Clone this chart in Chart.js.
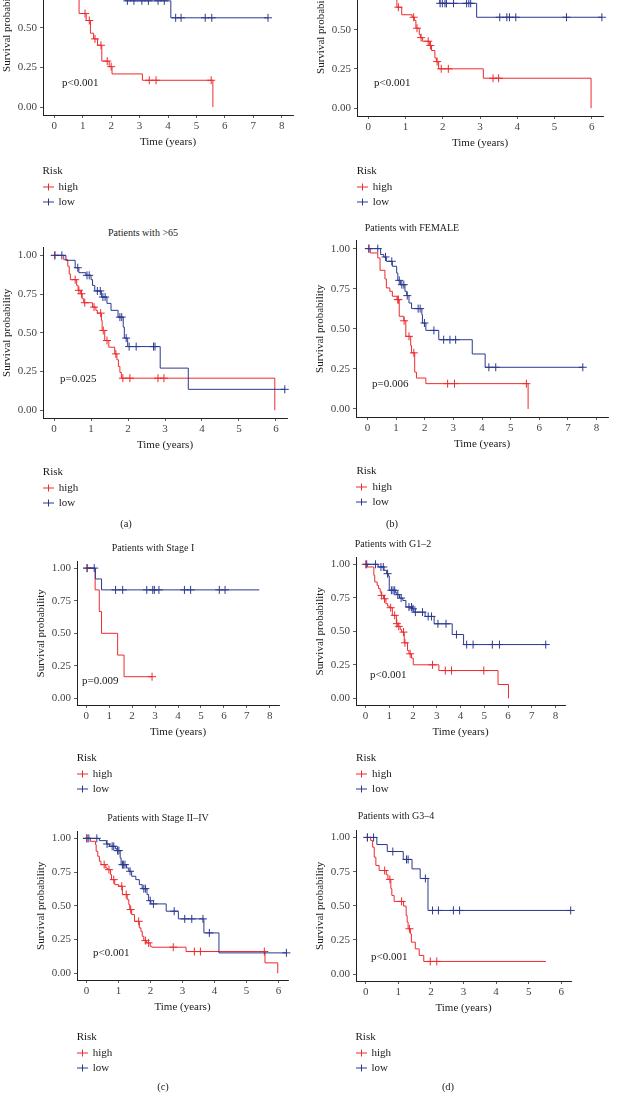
<!DOCTYPE html>
<html>
<head>
<meta charset="utf-8">
<script src="https://cdn.jsdelivr.net/npm/chart.js@4.4.0/dist/chart.umd.min.js"></script>
<style>
  body { margin: 0; width: 618px; height: 1093px; position: relative; overflow: hidden; background: #fff;
         font-family: "Liberation Serif", "DejaVu Serif", serif; color: #1a1a1a; }
  canvas { position: absolute; }
  .txt { position: absolute; white-space: nowrap; line-height: 1; }
</style>
</head>
<body>
<script>
// ---- datos: [tiempo (anos), supervivencia] ----
const xTicks8 = [0, 1, 2, 3, 4, 5, 6, 7, 8];
const xTicks6 = [0, 1, 2, 3, 4, 5, 6];
const yTicks = [0, 0.25, 0.5, 0.75, 1];

const panelTitles = ['', '', 'Patients with >65', 'Patients with FEMALE', 'Patients with Stage I',
  'Patients with G1–2', 'Patients with Stage II–IV', 'Patients with G3–4'];
const pValues = ['p<0.001', 'p<0.001', 'p=0.025', 'p=0.006', 'p=0.009', 'p<0.001', 'p<0.001', 'p<0.001'];
const panelLetters = ['(a)', '(b)', '(c)', '(d)'];
const riskGroups = ['high', 'low'];
const legendTitle = 'Risk';
const yTitle = 'Survival probability';
const xTitle = 'Time (years)';

// panel 1 (recortado arriba)
const p1High = [[0,1],[0.2,0.95],[0.35,0.9],[0.5,0.83],[0.62,0.76],[0.72,0.68],[0.87,0.59],[1.12,0.546],[1.27,0.466],[1.38,0.43],[1.52,0.39],[1.67,0.29],[1.93,0.255],[2.03,0.209],[3.1,0.169],[5.58,0]];
const p1HighCensor = [1.08, 1.23, 1.43, 1.64, 1.86, 2.0, 3.34, 3.58, 5.52];
const p1Low = [[0,1],[0.4,0.96],[0.9,0.92],[1.3,0.86],[1.8,0.8],[2.2,0.74],[2.5,0.67],[4.1,0.563],[7.52,0.563]];
const p1LowCensor = [2.57, 2.8, 3.08, 3.31, 3.65, 3.87, 4.27, 4.46, 5.31, 5.54, 7.52];

// panel 2 (recortado arriba)
const p2High = [[0,1],[0.2,0.95],[0.4,0.88],[0.55,0.8],[0.68,0.72],[0.77,0.644],[0.9,0.596],[1.18,0.58],[1.24,0.56],[1.28,0.51],[1.37,0.47],[1.4,0.45],[1.46,0.427],[1.65,0.4],[1.7,0.368],[1.79,0.32],[1.83,0.297],[1.89,0.251],[3.09,0.191],[5.98,0]];
const p2HighCensor = [0.81, 1.22, 1.31, 1.42, 1.61, 1.67, 1.85, 1.96, 2.15, 3.35, 3.5];
const p2Low = [[0,1],[0.3,0.96],[0.7,0.9],[1.1,0.84],[1.5,0.77],[1.92,0.669],[2.91,0.58],[6.27,0.58]];
const p2LowCensor = [1.93, 1.99, 2.06, 2.1, 2.29, 2.64, 2.7, 2.75, 3.53, 3.72, 3.79, 3.96, 5.32, 6.27];

// Patients with >65
const p3High = [[0,1],[0.26,0.972],[0.37,0.93],[0.41,0.88],[0.44,0.843],[0.61,0.806],[0.65,0.774],[0.71,0.752],[0.76,0.72],[0.8,0.694],[1.04,0.666],[1.13,0.645],[1.17,0.627],[1.28,0.58],[1.3,0.515],[1.37,0.45],[1.48,0.407],[1.64,0.364],[1.7,0.326],[1.74,0.283],[1.78,0.244],[1.82,0.207],[5.97,0]];
const p3HighCensor = [0.02, 0.57, 0.67, 0.74, 0.83, 1.08, 1.26, 1.33, 1.43, 1.67, 1.86, 2.05, 2.81, 2.97];
const p3Low = [[0,1],[0.32,0.968],[0.57,0.92],[0.67,0.888],[0.86,0.871],[1.0,0.843],[1.04,0.806],[1.1,0.77],[1.28,0.731],[1.43,0.69],[1.54,0.645],[1.73,0.601],[1.87,0.537],[1.9,0.466],[1.99,0.411],[2.87,0.272],[3.63,0.135],[6.24,0.135]];
const p3LowCensor = [0.02, 0.21, 0.64, 0.89, 0.95, 1.17, 1.25, 1.32, 1.38, 1.78, 1.83, 1.95, 2.03, 2.22, 2.69, 2.73, 6.24];

// Patients with FEMALE
const p4High = [[0,1],[0.1,0.973],[0.36,0.942],[0.44,0.865],[0.61,0.811],[0.66,0.755],[0.78,0.734],[0.87,0.703],[1.03,0.682],[1.11,0.578],[1.27,0.55],[1.34,0.453],[1.51,0.395],[1.54,0.35],[1.65,0.23],[1.71,0.193],[2.04,0.158],[5.61,0]];
const p4HighCensor = [0.05, 1.06, 1.08, 1.28, 1.45, 1.62, 2.8, 3.04, 5.55];
const p4Low = [[0,1],[0.46,0.963],[0.57,0.948],[0.66,0.921],[0.87,0.89],[1.02,0.848],[1.06,0.802],[1.15,0.775],[1.31,0.734],[1.37,0.707],[1.45,0.661],[1.54,0.626],[1.9,0.588],[1.92,0.536],[2.04,0.49],[2.49,0.432],[3.66,0.343],[4.11,0.26],[7.52,0.26]];
const p4LowCensor = [0.05, 0.36, 0.63, 0.85, 1.11, 1.2, 1.27, 1.39, 1.77, 1.84, 1.99, 2.32, 2.66, 2.88, 3.08, 4.24, 4.48, 7.52];

// Patients with Stage I
const p5High = [[0,1],[0.39,0.833],[0.57,0.667],[0.67,0.5],[1.37,0.333],[1.65,0.167],[2.87,0.167]];
const p5HighCensor = [0.04, 2.87];
const p5Low = [[0,1],[0.4,0.917],[0.67,0.833],[7.54,0.833]];
const p5LowCensor = [0.04, 0.35, 1.28, 1.59, 2.64, 2.9, 2.97, 3.17, 4.28, 4.55, 5.8, 6.05];

// Patients with G1-2
const p6High = [[0,1],[0.08,0.98],[0.35,0.918],[0.39,0.868],[0.49,0.843],[0.55,0.818],[0.62,0.793],[0.66,0.768],[0.76,0.743],[0.86,0.706],[0.93,0.688],[1.0,0.676],[1.13,0.619],[1.3,0.557],[1.36,0.537],[1.46,0.514],[1.52,0.494],[1.63,0.414],[1.77,0.357],[1.83,0.332],[1.94,0.3],[2.01,0.25],[3.09,0.207],[5.58,0.103],[6.02,0]];
const p6HighCensor = [0.01, 0.68, 0.8, 1.06, 1.23, 1.32, 1.4, 1.6, 1.66, 1.88, 2.82, 3.36, 3.62, 4.98];
const p6Low = [[0,1],[0.53,0.98],[0.78,0.955],[0.89,0.93],[0.96,0.913],[1.0,0.806],[1.27,0.788],[1.32,0.773],[1.43,0.748],[1.57,0.73],[1.7,0.681],[1.97,0.668],[2.04,0.643],[2.51,0.611],[2.89,0.556],[3.65,0.476],[4.13,0.401],[7.59,0.401]];
const p6LowCensor = [0.05, 0.42, 0.65, 0.75, 0.93, 1.09, 1.16, 1.23, 1.36, 1.5, 1.83, 1.94, 2.0, 2.1, 2.4, 2.64, 2.78, 3.05, 3.39, 3.83, 4.26, 4.53, 5.34, 5.64, 7.59];

// Patients with Stage II-IV
const p7High = [[0,1],[0.12,0.978],[0.28,0.953],[0.3,0.904],[0.35,0.867],[0.4,0.83],[0.45,0.805],[0.6,0.78],[0.65,0.768],[0.75,0.731],[0.78,0.694],[0.88,0.657],[1.0,0.645],[1.12,0.583],[1.27,0.546],[1.32,0.509],[1.35,0.472],[1.41,0.435],[1.5,0.385],[1.65,0.336],[1.7,0.311],[1.74,0.274],[1.79,0.242],[1.87,0.225],[1.99,0.2],[2.04,0.193],[3.11,0.161],[5.58,0.077],[5.98,0]];
const p7HighCensor = [0.01, 0.55, 0.7, 0.85, 1.1, 1.24, 1.38, 1.63, 1.84, 1.94, 2.71, 3.37, 3.56, 5.56];
const p7Low = [[0,1],[0.4,0.983],[0.62,0.958],[0.72,0.941],[0.9,0.923],[0.95,0.909],[1.05,0.854],[1.08,0.805],[1.25,0.78],[1.32,0.756],[1.41,0.719],[1.54,0.694],[1.65,0.657],[1.74,0.627],[1.89,0.583],[1.94,0.538],[2.01,0.514],[2.49,0.46],[2.87,0.403],[3.67,0.299],[4.14,0.151],[6.25,0.151]];
const p7LowCensor = [0.01, 0.07, 0.32, 0.64, 0.8, 0.85, 0.97, 1.01, 1.12, 1.15, 1.2, 1.36, 1.79, 1.84, 1.99, 2.09, 2.74, 3.07, 3.29, 3.64, 3.84, 6.25];

// Patients with G3-4
const p8High = [[0,1],[0.15,0.978],[0.21,0.929],[0.26,0.856],[0.31,0.795],[0.41,0.758],[0.63,0.727],[0.68,0.693],[0.77,0.625],[0.8,0.576],[0.87,0.532],[1.16,0.498],[1.24,0.429],[1.27,0.381],[1.3,0.332],[1.37,0.295],[1.4,0.234],[1.52,0.185],[1.64,0.137],[1.78,0.093],[5.53,0.093]];
const p8HighCensor = [0.05, 0.58, 0.74, 1.1, 1.34, 1.98, 2.18];
const p8Low = [[0,1],[0.34,0.948],[0.66,0.897],[1.15,0.839],[1.42,0.77],[1.67,0.7],[1.91,0.466],[6.29,0.466]];
const p8LowCensor = [0.05, 0.24, 0.83, 1.25, 1.3, 1.83, 2.05, 2.23, 2.69, 2.88, 6.29];

const RED = '#EE2A2E';
const BLUE = '#2B3990';

// posicion de cada panel en la pagina (pixeles del area de trazado)
const layout = [
  { L: 42.5, R: 301.5, T: -59, B: 115, xMin: -0.4, xMax: 8.4, ticks: xTicks8, titleX: 0, titleY: 0, pX: 62, pY: 82, legY: 170 },
  { L: 356.7, R: 611.9, T: -56.9, B: 115.5, xMin: -0.3, xMax: 6.3, ticks: xTicks6, titleX: 0, titleY: 0, pX: 374, pY: 82, legY: 170 },
  { L: 42.8, R: 295.8, T: 247.3, B: 417.4, xMin: -0.3, xMax: 6.3, ticks: xTicks6, titleX: 143, titleY: 233, pX: 60, pY: 378, legY: 471 },
  { L: 356.4, R: 617.5, T: 241.0, B: 417.3, xMin: -0.4, xMax: 8.4, ticks: xTicks8, titleX: 412, titleY: 228, pX: 372, pY: 383, legY: 470 },
  { L: 76.7, R: 287.2, T: 561.5, B: 704.8, xMin: -0.4, xMax: 8.4, ticks: xTicks8, titleX: 153, titleY: 548, pX: 82, pY: 680, legY: 757 },
  { L: 356.1, R: 573.6, T: 557.3, B: 704.4, xMin: -0.4, xMax: 8.4, ticks: xTicks8, titleX: 393, titleY: 544, pX: 370, pY: 674, legY: 757 },
  { L: 76.7, R: 297.5, T: 832.0, B: 980.5, xMin: -0.3, xMax: 6.3, ticks: xTicks6, titleX: 158, titleY: 818, pX: 93, pY: 952, legY: 1036 },
  { L: 355.5, R: 579.9, T: 830.2, B: 980.5, xMin: -0.3, xMax: 6.3, ticks: xTicks6, titleX: 396, titleY: 816, pX: 371, pY: 956, legY: 1036 }
];
const letterPos = [[126, 524], [392, 524], [163, 1087], [448, 1087]];

Chart.defaults.font.family = '"Liberation Serif", serif';

// supervivencia en el tiempo t (escalon de la curva leida)
function survAt(curve, t) {
  let s = curve[0][1];
  curve.forEach(p => { if (p[0] <= t) s = p[1]; });
  return s;
}

function addText(text, x, y, size, mode) {
  const d = document.createElement('div');
  d.className = 'txt';
  d.textContent = text;
  d.style.fontSize = size + 'px';
  d.style.left = x + 'px';
  d.style.top = y + 'px';
  d.style.transform = mode === 'center' ? 'translate(-50%,-50%)' : 'translateY(-50%)';
  document.body.appendChild(d);
  return d;
}

function addLegend(x, y, color, label) {
  const d = document.createElement('div');
  d.className = 'txt';
  d.style.left = x + 'px';
  d.style.top = y + 'px';
  d.style.fontSize = '11px';
  d.style.transform = 'translateY(-50%)';
  d.innerHTML = '<svg width="11" height="9" style="vertical-align:middle;margin-right:5px">' +
    '<line x1="0" y1="4.5" x2="11" y2="4.5" stroke="' + color + '" stroke-width="1"/>' +
    '<line x1="5.5" y1="1" x2="5.5" y2="8" stroke="' + color + '" stroke-width="1"/></svg>' + label;
  document.body.appendChild(d);
}

function buildPanel(i, high, highCensor, low, lowCensor) {
  const c = layout[i];
  const cv = document.createElement('canvas');
  cv.width = Math.round(c.R - c.L + 60);
  cv.height = Math.round(c.B - c.T + 60);
  document.body.appendChild(cv);

  const steps = pts => pts.map(p => ({ x: p[0], y: p[1] }));
  const marks = (pts, cens) => cens.map(t => ({ x: t, y: survAt(pts, t) }));
  const curve = (data, color, order) => ({
    data: data, borderColor: color, borderWidth: 1, stepped: true, fill: false,
    pointRadius: 0, pointHoverRadius: 0, order: order
  });
  const cross = (data, color, order) => ({
    data: data, borderColor: color, backgroundColor: color, borderWidth: 1, showLine: false,
    pointStyle: 'cross', pointRadius: 4, pointHoverRadius: 4, clip: false, order: order
  });

  const chart = new Chart(cv, {
    type: 'line',
    data: {
      datasets: [
        curve(steps(low), BLUE, 1),
        cross(marks(low, lowCensor), BLUE, 0),
        curve(steps(high), RED, 3),
        cross(marks(high, highCensor), RED, 2)
      ]
    },
    options: {
      responsive: false,
      animation: false,
      events: [],
      layout: { padding: { top: 0, right: 2, bottom: 0, left: 0 } },
      plugins: { legend: { display: false }, tooltip: { enabled: false } },
      scales: {
        x: {
          type: 'linear', min: c.xMin, max: c.xMax,
          afterBuildTicks: axis => { axis.ticks = c.ticks.map(v => ({ value: v })); },
          afterFit: axis => { axis.height = 34; },
          ticks: { color: '#444', font: { size: 11 }, padding: 2, maxRotation: 0, callback: v => String(v) },
          grid: { drawOnChartArea: false, drawTicks: true, tickLength: 3, color: '#333', lineWidth: 0.8 },
          border: { display: true, color: '#222', width: 1 },
          title: { display: true, text: xTitle, color: '#1a1a1a', font: { size: 11 }, padding: 0 }
        },
        y: {
          type: 'linear', min: -0.05, max: 1.05,
          afterBuildTicks: axis => { axis.ticks = yTicks.map(v => ({ value: v })); },
          afterFit: axis => { axis.width = 42; },
          ticks: { color: '#444', font: { size: 11 }, padding: 3, callback: v => v.toFixed(2) },
          grid: { drawOnChartArea: false, drawTicks: true, tickLength: 3, color: '#333', lineWidth: 0.8 },
          border: { display: true, color: '#222', width: 1 },
          title: { display: true, text: yTitle, color: '#1a1a1a', font: { size: 11 }, padding: 0 }
        }
      }
    }
  });

  // ajustar el lienzo para que el area de trazado caiga donde la figura
  let a = chart.chartArea;
  const w = Math.round(c.R - c.L + a.left + (cv.width - a.right));
  const h = Math.round(c.B - c.T + a.top + (cv.height - a.bottom));
  chart.resize(w, h);
  a = chart.chartArea;
  cv.style.left = (c.L - a.left) + 'px';
  cv.style.top = (c.T - a.top) + 'px';

  if (panelTitles[i]) addText(panelTitles[i], c.titleX, c.titleY, 10, 'center');
  addText(pValues[i], c.pX, c.pY, 11, 'left');
  addText(legendTitle, c.L, c.legY, 11, 'left');
  addLegend(c.L, c.legY + 16, RED, riskGroups[0]);
  addLegend(c.L, c.legY + 31, BLUE, riskGroups[1]);
}

buildPanel(0, p1High, p1HighCensor, p1Low, p1LowCensor);
buildPanel(1, p2High, p2HighCensor, p2Low, p2LowCensor);
buildPanel(2, p3High, p3HighCensor, p3Low, p3LowCensor);
buildPanel(3, p4High, p4HighCensor, p4Low, p4LowCensor);
buildPanel(4, p5High, p5HighCensor, p5Low, p5LowCensor);
buildPanel(5, p6High, p6HighCensor, p6Low, p6LowCensor);
buildPanel(6, p7High, p7HighCensor, p7Low, p7LowCensor);
buildPanel(7, p8High, p8HighCensor, p8Low, p8LowCensor);

panelLetters.forEach((t, k) => addText(t, letterPos[k][0], letterPos[k][1], 10.5, 'center'));
</script>
</body>
</html>
